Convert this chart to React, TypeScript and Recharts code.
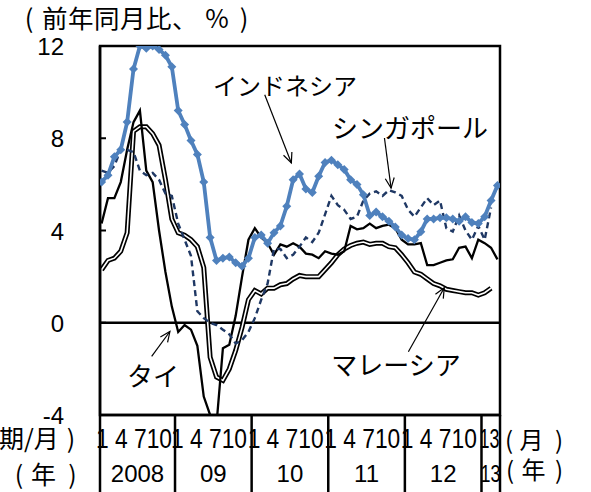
import { LineChart, Line, XAxis, YAxis, ReferenceLine, ReferenceArea } from "recharts";

// 2008/1 .. 2013/3, monthly index
const MONTHS = Array.from({ length: 63 }, (_, i) => i);

const INDONESIA = [
  6.1, 6.4, 7.2, 7.5, 8.7, 11.0, 12.0, 11.9, 12.0, 11.85, 11.6, 11.1,
  9.2, 8.6, 7.9, 7.3, 6.1, 3.7, 2.7, 2.8, 2.85, 2.6, 2.45, 2.8,
  3.7, 3.8, 3.45, 3.9, 4.2, 5.05, 6.2, 6.45, 5.8, 5.65, 6.35, 6.95,
  7.05, 6.85, 6.65, 6.2, 6.0, 5.55, 4.65, 4.8, 4.6, 4.4, 4.15, 3.8,
  3.65, 3.6, 3.95, 4.5, 4.5, 4.55, 4.55, 4.5, 4.4, 4.6, 4.35, 4.3,
  4.6, 5.3, 5.95,
];

const SINGAPORE = [
  6.6, 6.5, 6.8, 7.5, 7.5, 7.4, 6.6, 6.4, 6.5, 6.2, 5.6, 5.5,
  4.3, 3.6, 2.9, 0.5, 0.2, 0.0, -0.1, -0.3, -0.5, -0.9, -0.75, -0.4,
  0.2, 1.0, 1.7, 3.2, 3.2, 2.8, 2.95, 3.3, 3.7, 3.5, 3.9, 4.7,
  5.5, 5.1, 4.9, 4.5, 4.6, 5.3, 5.6, 5.7, 5.5, 5.75, 5.65, 5.5,
  4.9, 4.6, 5.0, 5.4, 5.1, 5.3, 4.1, 3.95, 4.65, 4.0, 3.6, 4.2,
  3.6, 5.0,
];

const THAILAND = [
  4.3, 5.4, 5.4, 6.1, 7.5, 8.7, 9.2, 6.6, 6.1, 4.0, 2.2, 0.7,
  -0.4, -0.1, -0.3, -1.0, -3.2, -4.0, -4.4, -1.1, -0.95, 0.3, 2.0, 3.6,
  4.1, 3.7, 3.45, 2.95, 3.4, 3.3, 3.45, 3.3, 3.0, 2.95, 2.8, 3.1,
  3.0, 2.95, 3.1, 4.2, 4.05, 4.1, 4.3, 4.1, 4.2, 4.25, 4.1, 3.6,
  3.4, 3.4, 3.45, 2.5, 2.5, 2.6, 2.7, 2.75, 3.25, 3.3, 2.8, 3.6,
  3.45, 3.25, 2.75,
];

const MALAYSIA = [
  2.3, 2.7, 2.8, 3.1, 3.9, 8.3, 8.5, 8.5, 8.2, 7.7, 6.2, 4.5,
  3.9, 3.8, 3.6, 3.3, 2.4, -1.5, -2.35, -2.5, -2.0, -1.2, -0.2, 1.0,
  1.4, 1.25, 1.5, 1.5, 1.65, 1.7, 1.9, 2.05, 2.0, 2.0, 2.0, 2.3,
  2.6, 2.95, 3.2, 3.35, 3.45, 3.5, 3.4, 3.45, 3.45, 3.3, 3.25, 2.95,
  2.6, 2.2, 2.1, 1.9, 1.7, 1.6, 1.45, 1.4, 1.35, 1.3, 1.3, 1.2,
  1.3, 1.5,
];

const Y_TICKS = [-4, 0, 4, 8, 12];
const X_TICKS = [-0.25, 11.5, 23.5, 35.5, 47.5, 59.5, 62.4];
const MONTH_TEXT = ["1 4 710", "1 4 710", "1 4 710", "1 4 710", "1 4 710", "13"];
const YEAR_TEXT = ["2008", "09", "10", "11", "12", "13"];

// annotation arrows, in data coordinates: [from, to]
const ARROWS = [
  [{ x: 25.55, y: 9.89 }, { x: 29.72, y: 6.93 }],
  [{ x: 44.3, y: 8.01 }, { x: 45.34, y: 5.84 }],
  [{ x: 7.84, y: -1.46 }, { x: 10.7, y: -0.38 }],
  [{ x: 48.05, y: -1.26 }, { x: 53.67, y: 1.52 }],
];

const data = MONTHS.map((i) => ({
  m: i,
  indonesia: INDONESIA[i],
  singapore: SINGAPORE[i] ?? null,
  thailand: THAILAND[i],
  malaysia: MALAYSIA[i] ?? null,
}));

const W = 591;
const H = 492;
const MARGIN = { top: 46, right: 91, bottom: 0, left: 0 };
const Y_W = 100;
const X_H = 77;
const PLOT_W = W - MARGIN.right - Y_W;
const X_DOMAIN: [number, number] = [-0.25, 62.4];
const PX_PER_MONTH = PLOT_W / (X_DOMAIN[1] - X_DOMAIN[0]);

const SANS = "'Liberation Sans', Arial, sans-serif";
const CJK = "'Noto Sans CJK JP', sans-serif";

function YTick(props: any) {
  const { x, y, payload } = props;
  return (
    <g>
      <line x1={x} y1={y} x2={x + 6} y2={y} stroke="#000" strokeWidth={2} />
      <text x={x - 36} y={y + 9} textAnchor="end" fontSize={24} fill="#000" fontFamily={SANS}>
        {payload.value}
      </text>
    </g>
  );
}

function XTick(props: any) {
  const { x, y, payload } = props;
  const idx = X_TICKS.indexOf(payload.value);
  const next = X_TICKS[idx + 1];
  const sep = <line x1={x} y1={y} x2={x} y2={y + 80} stroke="#000" strokeWidth={2.5} />;
  if (next === undefined) return <g>{sep}</g>;
  const w = (next - payload.value) * PX_PER_MONTH;
  const short = idx === MONTH_TEXT.length - 1;
  return (
    <g fontFamily={SANS} fill="#000">
      {sep}
      <text
        x={x - (short ? 2 : 4)}
        y={y + 33}
        fontSize={27}
        textLength={short ? 20 : 76}
        lengthAdjust="spacingAndGlyphs"
      >
        {MONTH_TEXT[idx]}
      </text>
      {short ? (
        <text x={x - 1} y={y + 67} fontSize={24} textLength={20} lengthAdjust="spacingAndGlyphs">
          {YEAR_TEXT[idx]}
        </text>
      ) : (
        <text x={x + w / 2} y={y + 67} fontSize={24} textAnchor="middle">
          {YEAR_TEXT[idx]}
        </text>
      )}
    </g>
  );
}

function arrowShape(p: any) {
  const { x1, y1, x2, y2 } = p;
  const ang = Math.atan2(y2 - y1, x2 - x1);
  const L = 11;
  const a = 0.42;
  const ax = x2 - L * Math.cos(ang - a);
  const ay = y2 - L * Math.sin(ang - a);
  const bx = x2 - L * Math.cos(ang + a);
  const by = y2 - L * Math.sin(ang + a);
  return (
    <g>
      <line x1={x1} y1={y1} x2={x2} y2={y2} stroke="#000" strokeWidth={1.2} />
      <polyline points={`${ax},${ay} ${x2},${y2} ${bx},${by}`} fill="none" stroke="#000" strokeWidth={1.2} />
    </g>
  );
}

function Diamond(props: any) {
  const { cx, cy } = props;
  if (cx == null || cy == null) return <g />;
  const r = 4.5;
  return (
    <path
      d={`M${cx},${cy - r} L${cx + r},${cy} L${cx},${cy + r} L${cx - r},${cy} Z`}
      fill="#4F81BD"
    />
  );
}

export default function App() {
  return (
    <div style={{ position: "absolute", left: 0, top: 0, width: W, height: H, background: "#fff", overflow: "hidden" }}>
      <LineChart width={W} height={H} data={data} margin={MARGIN} style={{ fontFamily: SANS }}>
        <XAxis
          dataKey="m"
          type="number"
          domain={X_DOMAIN}
          ticks={X_TICKS}
          interval={0}
          allowDataOverflow
          height={X_H}
          axisLine={{ stroke: "#000", strokeWidth: 2.5 }}
          tickLine={false}
          tickSize={0}
          tickMargin={0}
          tick={<XTick />}
        />
        <YAxis
          type="number"
          domain={[-4, 12]}
          ticks={Y_TICKS}
          interval={0}
          allowDataOverflow
          width={Y_W}
          axisLine={{ stroke: "#000", strokeWidth: 2.5 }}
          tickLine={false}
          tickSize={0}
          tickMargin={0}
          tick={<YTick />}
        />
        <ReferenceArea
          x1={X_DOMAIN[0]}
          x2={X_DOMAIN[1]}
          y1={-4}
          y2={12}
          fill="none"
          stroke="#000"
          strokeWidth={2.5}
          ifOverflow="visible"
        />
        <ReferenceLine y={0} stroke="#000" strokeWidth={2.5} />
        <Line dataKey="malaysia" stroke="#000" strokeWidth={5} dot={false} isAnimationActive={false} />
        <Line dataKey="malaysia" stroke="#fff" strokeWidth={1.6} dot={false} isAnimationActive={false} />
        <Line dataKey="thailand" stroke="#000" strokeWidth={2.3} dot={false} isAnimationActive={false} />
        <Line
          dataKey="singapore"
          stroke="#1F3864"
          strokeWidth={2.4}
          strokeDasharray="6 4"
          dot={false}
          isAnimationActive={false}
        />
        <Line
          dataKey="indonesia"
          stroke="#4F81BD"
          strokeWidth={3.8}
          dot={<Diamond />}
          isAnimationActive={false}
        />
        {ARROWS.map((seg, i) => (
          <ReferenceLine key={i} segment={seg} shape={arrowShape} ifOverflow="visible" />
        ))}
      </LineChart>
      <svg
        width={W}
        height={H}
        style={{ position: "absolute", left: 0, top: 0, pointerEvents: "none" }}
        fontFamily={CJK}
        fill="#000"
      >
        {/* title */}
        <text x={29} y={28} fontSize={25.5} textAnchor="middle">(</text>
        <text x={42} y={28} fontSize={25.5} letterSpacing={0.5}>前年同月比、</text>
        <text x={217} y={28} fontSize={25.5} textAnchor="middle">%</text>
        <text x={244} y={28} fontSize={25.5} textAnchor="middle">)</text>
        {/* left unit labels */}
        <text x={-1} y={448} fontSize={25}>期/月</text>
        <text x={71} y={448} fontSize={25} textAnchor="middle">)</text>
        <text x={19} y={484} fontSize={25} textAnchor="middle">(</text>
        <text x={43.5} y={484} fontSize={25} textAnchor="middle">年</text>
        <text x={72.5} y={484} fontSize={25} textAnchor="middle">)</text>
        {/* right unit labels */}
        <text x={509} y={448.5} fontSize={24} textAnchor="middle">(</text>
        <text x={531.5} y={448.5} fontSize={24} textAnchor="middle">月</text>
        <text x={559} y={448.5} fontSize={24} textAnchor="middle">)</text>
        <text x={510} y={478.5} fontSize={24} textAnchor="middle">(</text>
        <text x={533.5} y={478.5} fontSize={24} textAnchor="middle">年</text>
        <text x={559} y={478.5} fontSize={24} textAnchor="middle">)</text>
        {/* series annotations */}
        <text x={285} y={95} fontSize={24} textAnchor="middle">インドネシア</text>
        <text x={410} y={138} fontSize={26} textAnchor="middle">シンガポール</text>
        <text x={396} y={375} fontSize={26} textAnchor="middle">マレーシア</text>
        <text x={153} y={386} fontSize={26} textAnchor="middle">タイ</text>
      </svg>
    </div>
  );
}
